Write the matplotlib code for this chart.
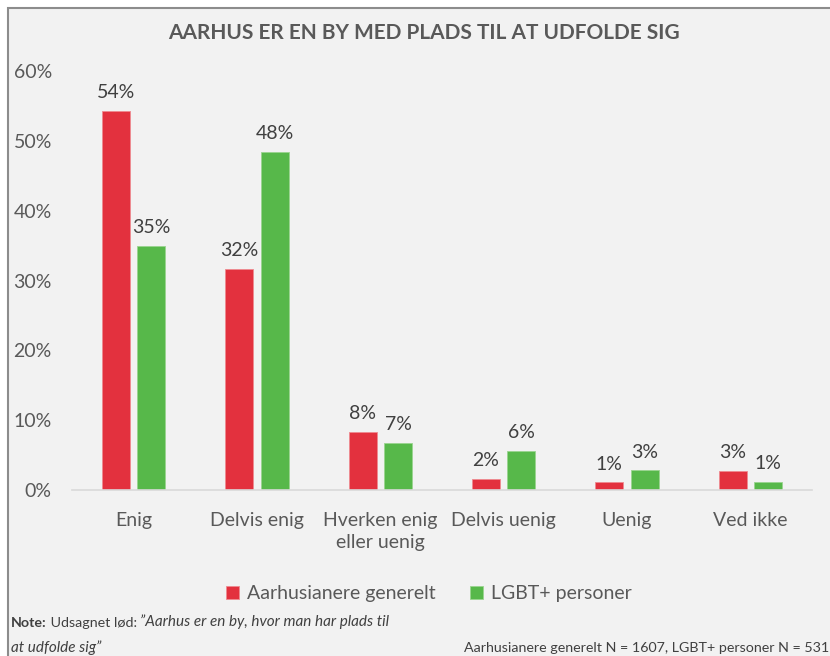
"""
Aarhus survey chart: 'Aarhus er en by med plads til at udfolde sig'.
"""
import matplotlib
matplotlib.use('Agg')
import matplotlib.pyplot as plt
import matplotlib.patches as mpatches
import numpy as np

plt.rcParams['font.family'] = ['Lato', 'DejaVu Sans']

categories = ['Enig', 'Delvis enig', 'Hverken enig\neller uenig', 'Delvis uenig', 'Uenig', 'Ved ikke']
generelt = [54.3, 31.7, 8.3, 1.6, 1.1, 2.7]
lgbt = [35.0, 48.4, 6.7, 5.6, 2.8, 1.2]
series_names = ['Aarhusianere generelt', 'LGBT+ personer']
y_ticks = [0, 10, 20, 30, 40, 50, 60]

RED = '#E3313E'
GREEN = '#57B84A'
TEXT = '#404040'
GREY_TXT = '#595959'
BG = '#F2F2F2'
FS = 14

fig = plt.figure(figsize=(8.3, 6.56), dpi=100, facecolor='white')

# chart frame (background panel with grey border)
frame = mpatches.Rectangle((7.5 / 830, -0.05), 1.05, 1 - 8.5 / 656 + 0.05,
                           transform=fig.transFigure, facecolor=BG,
                           edgecolor='#8C8C8C', linewidth=1.5, zorder=-10)
fig.patches.append(frame)

ax = fig.add_axes([72 / 830, 1 - 490 / 656, 740 / 830, 419 / 656])
ax.set_facecolor('none')

x = np.arange(len(categories))
w = 0.228
off = 0.144
b1 = ax.bar(x - off, generelt, w, color=RED, edgecolor='#EE8A90', linewidth=0.6,
            label=series_names[0], zorder=2)
b2 = ax.bar(x + off, lgbt, w, color=GREEN, edgecolor='#9AD48F', linewidth=0.6,
            label=series_names[1], zorder=2)

for bars, vals in [(b1, generelt), (b2, lgbt)]:
    for bar, v in zip(bars, vals):
        ax.annotate(f'{round(v):.0f}%', (bar.get_x() + bar.get_width() / 2, v),
                    xytext=(0, 7), textcoords='offset points', ha='center', va='bottom',
                    fontsize=FS, color=TEXT, clip_on=False)

ax.set_xlim(-0.5, len(categories) - 0.5)
ax.set_ylim(0, 60)
ax.set_yticks(y_ticks)
ax.set_yticklabels([f'{t}%' for t in y_ticks])
ax.set_xticks(x)
ax.set_xticklabels(categories, linespacing=1.35)
ax.tick_params(axis='y', length=0, pad=14.5, labelsize=FS, labelcolor=GREY_TXT)
ax.tick_params(axis='x', length=0, pad=16, labelsize=FS, labelcolor=GREY_TXT)
for s in ['top', 'right', 'left']:
    ax.spines[s].set_visible(False)
ax.spines['bottom'].set_color('#D9D9D9')
ax.spines['bottom'].set_linewidth(1.2)

fig.text(424 / 830, 1 - 33 / 656, 'AARHUS ER EN BY MED PLADS TIL AT UDFOLDE SIG',
         ha='center', va='center', fontsize=15, fontweight='bold', color=GREY_TXT)

fig.legend(handles=[b1, b2], labels=series_names, loc='center',
           bbox_to_anchor=(429 / 830, 1 - 594 / 656), ncol=2, frameon=False,
           fontsize=FS, labelcolor=GREY_TXT, handlelength=0.65, handleheight=0.65,
           handletextpad=0.4, columnspacing=1.8)

NS = 10.3
t1 = fig.text(11 / 830, 1 - 627 / 656, 'Note:', fontweight='bold', fontsize=NS,
              color=TEXT, va='baseline')
t2 = ax.annotate(' Udsagnet lød: ', xy=(1, 0), xycoords=t1, va='bottom',
                 fontsize=NS, color=TEXT)
ax.annotate('\u201dAarhus er en by, hvor man har plads til', xy=(1, 0), xycoords=t2,
            va='bottom', fontsize=NS + 0.7, style='italic', color=TEXT)
fig.text(11 / 830, 1 - 648 / 656, 'at udfolde sig\u201d', fontsize=NS + 0.7, style='italic',
         color=TEXT, va='center')
fig.text(829 / 830, 1 - 648 / 656, 'Aarhusianere generelt N = 1607, LGBT+ personer N = 531',
         fontsize=NS, color=TEXT, va='center', ha='right')

fig.savefig('out.png', dpi=100, facecolor=fig.get_facecolor())
